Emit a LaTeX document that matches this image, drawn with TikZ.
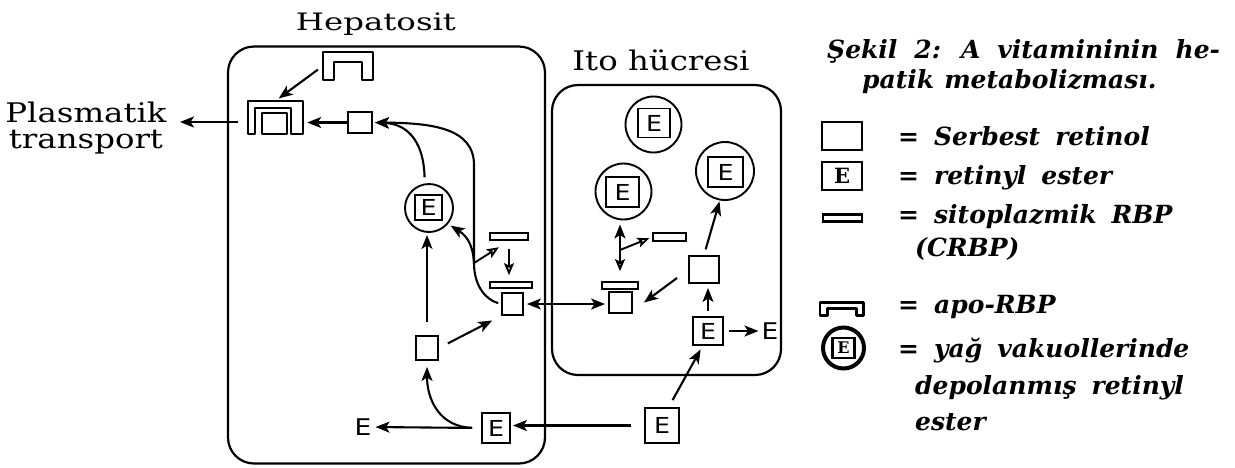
\documentclass[tikz,border=0pt]{standalone}
\usepackage{fontspec}
\setmainfont{DejaVu Serif}
\newfontfamily\labelfont{DejaVu Serif}[FakeStretch=1.2]
\newfontfamily\widelabelfont{DejaVu Serif}[FakeStretch=1.35]
\newfontfamily\legendfont{DejaVu Serif}
\newfontfamily\esterfont{DejaVu Sans}[FakeStretch=1.15]
\usetikzlibrary{arrows.meta,calc}
\newcommand\widewords{\spaceskip=15pt plus 2pt\relax}
\newcommand\titlewords{\spaceskip=17pt plus 2pt\relax}
\newcommand\titlewordsb{\spaceskip=10pt plus 2pt\relax}

\tikzset{
  cell/.style={draw, line width=2.2pt, rounded corners=26pt, inner sep=0pt},
  retsq/.style={draw, line width=1.9pt, rectangle, inner sep=0pt},
  esterbox/.style={draw, line width=1.9pt, rectangle, inner sep=0pt,
    font=\esterfont\fontsize{22}{22}\selectfont},
  vacuole/.style={draw, circle, line width=1.9pt, inner sep=0pt},
  crbpbar/.style={draw, line width=1.7pt, rectangle, inner sep=0pt},
  apobox/.style={draw=none, rectangle, inner sep=0pt},
  apoline/.style={line width=1.9pt, line join=round},
  freeE/.style={inner sep=1pt, font=\esterfont\fontsize{23}{23}\selectfont},
  tipfull/.tip={Stealth[length=14pt,width=11pt,inset=3.5pt]},
  tipopen/.tip={Stealth[open,length=12pt,width=10pt,inset=2.5pt]},
  flow/.style={line width=2.1pt, -tipfull},
  flowopen/.style={line width=1.9pt, -tipopen},
  flowboth/.style={line width=2.1pt, tipfull-tipfull},
  plain/.style={line width=2.1pt},
  cellname/.style={inner sep=0pt, anchor=base, font=\labelfont\fontsize{27}{26}\selectfont},
  legtext/.style={anchor=base west, inner sep=0pt,
    font=\legendfont\bfseries\itshape\fontsize{25}{28}\selectfont,
    execute at begin node=\widewords},
  titletext/.style={anchor=base west, inner sep=0pt,
    font=\legendfont\bfseries\itshape\fontsize{25}{28}\selectfont},
  legsym/.style={draw, line width=2.4pt, rectangle, inner sep=0pt},
}

\begin{document}
\begin{tikzpicture}[x=1pt,y=-1pt]
\useasboundingbox (0,0) rectangle (1235,467);

% cell membranes and their names
\node[cell, minimum width=317pt, minimum height=417pt] (hep) at (386.5,255) {};
\node[cell, minimum width=229pt, minimum height=290pt] (ito) at (666.5,230) {};
\node[cellname, font=\widelabelfont\fontsize{24}{26}\selectfont] (hepname) at (376,30) {Hepatosit};
\node[cellname] (itoname) at (661,70) {Ito hücresi};
\node[cellname, align=center, anchor=north] (plasma) at (86,101.5) {Plasmatik\\transport};

% --- hepatocyte ---
\node[apobox, minimum width=50pt, minimum height=28pt] (apoTop) at (348,66) {};
\draw[apoline] (apoTop.south west) -- (apoTop.north west) -- (apoTop.north east)
  -- (apoTop.south east) -- ++(-11,0) -- ++(0,-18) -- ++(-28,0) -- ++(0,18) -- cycle;

\node[apobox, minimum width=55pt, minimum height=33pt] (cplx) at (275.5,117.5) {};
\draw[apoline] (cplx.south west) -- (cplx.north west) -- (cplx.north east)
  -- (cplx.south east) -- ++(-12,0) -- ++(0,-26) -- ++(-36,0) -- ++(0,26) -- cycle;
\draw[apoline] ($(cplx.south west)+(14,0)$) rectangle ++(25,-21);

\node[retsq, minimum width=24pt, minimum height=21pt] (rTop) at (360,122.5) {};
\node[vacuole, minimum size=48pt] (vacH) at (429,208) {};
\node[esterbox, minimum width=27pt, minimum height=25pt] (eVacH) at (428.5,207.5) {E};
\node[crbpbar, minimum width=38pt, minimum height=7pt] (crbpA) at (509,236.5) {};
\node[crbpbar, minimum width=42pt, minimum height=6pt] (crbpB) at (511,285) {};
\node[retsq, minimum width=21pt, minimum height=22pt] (rH) at (512.5,304) {};
\node[retsq, minimum width=22pt, minimum height=24pt] (rLow) at (427,348) {};
\node[esterbox, minimum width=28pt, minimum height=30pt] (eH) at (496,428) {E};
\node[freeE] (eFreeL) at (363,427) {E};

% --- outside, below the Ito cell ---
\node[esterbox, minimum width=34pt, minimum height=35pt] (eOut) at (662,425.5) {E};

% --- Ito cell ---
\node[vacuole, minimum size=56pt] (vacI1) at (653.5,124.5) {};
\node[esterbox, minimum width=32pt, minimum height=29pt] (eVacI1) at (654,123) {E};
\node[vacuole, minimum size=56pt] (vacI2) at (623.5,191.5) {};
\node[esterbox, minimum width=33pt, minimum height=30pt] (eVacI2) at (622.5,192) {E};
\node[vacuole, minimum size=58pt] (vacI3) at (725,171) {};
\node[esterbox, minimum width=35pt, minimum height=30pt] (eVacI3) at (725.5,172) {E};
\node[crbpbar, minimum width=33pt, minimum height=8pt] (crbpI) at (669.5,237) {};
\node[crbpbar, minimum width=36pt, minimum height=7pt] (crbpI2) at (620,285.5) {};
\node[retsq, minimum width=23pt, minimum height=21pt] (rI) at (620.5,302.5) {};
\node[retsq, minimum width=30pt, minimum height=27pt] (rI2) at (704,269.5) {};
\node[esterbox, minimum width=30pt, minimum height=28pt] (eI) at (708,331) {E};
\node[freeE] (eFreeR) at (770,331) {E};

% --- hepatocyte connectors ---
\coordinate (plasmaTip) at (180,122);
\draw[flow, shorten <=10pt] (cplx.west |- plasmaTip) -- (plasmaTip);
\draw[flow, shorten <=6pt, shorten >=4pt] (apoTop.west) -- (cplx.north);
\draw[flow, shorten >=4pt] (rTop.west) -- (cplx.east |- rTop.west);

\coordinate (brH) at (474,263);
\draw[plain, shorten <=3pt] (rH.west) .. controls (484,299) and (474,284) .. (brH);
\draw[flow, shorten >=2pt] (brH) -- (474,165) .. controls (474,128) and (432,123) .. (rTop.east);
\draw[flow, shorten <=6pt, shorten >=2pt] (vacH.100) .. controls (424,145) and (410,124) .. (rTop.east);
\draw[flow, shorten >=3pt] (brH) .. controls (473,245) and (467,236) .. (vacH.-40);
\draw[flowopen, shorten >=12pt] (brH) -- (crbpA.south);
\draw[flowopen, shorten <=8pt, shorten >=6pt] (crbpA.south) -- (crbpA.south |- crbpB.north);

\draw[flow, shorten <=13pt, shorten >=2pt] (rLow.north) -- (rLow.north |- vacH.south);
\draw[flow, shorten <=10pt, shorten >=10pt] (rLow.east) -- (rH.south west);
\draw[flowboth, shorten <=3pt, shorten >=3pt] (rH.east) -- (rH.east -| rI.west);

\draw[flow, shorten <=9pt, shorten >=6pt] (eH.west) .. controls (440,427) and (427,400) .. (rLow.south);
\draw[flow, shorten <=9pt, shorten >=3pt] (eH.west) -- (eFreeL.east);
\draw[flow, shorten <=13pt, shorten >=2pt] (eOut.west) -- (eOut.west -| eH.east);

% --- Ito connectors ---
\draw[flow, shorten <=8pt, shorten >=4pt] (eOut.70) -- (eI.-110);
\draw[flow, shorten <=5pt, shorten >=2pt] (eI.east) -- (eFreeR.west);
\draw[flow, shorten <=5pt, shorten >=4pt] (eI.north) -- (eI.north |- rI2.south);
\draw[flow, shorten <=6pt, shorten >=1pt] (rI2.north) -- (vacI3.-100);
\draw[flow] ($(rI2.south west)+(-11,-6)$) -- ($(rI.east)+(11,0)$);

\coordinate (brI) at (620,250);
\draw[line width=2.1pt, tipopen-tipfull, shorten <=10pt, shorten >=4pt]
  (crbpI2.north) -- (crbpI2.north |- vacI2.south);
\draw[flowopen, shorten >=3pt] (brI) -- (crbpI.west);

% --- legend ---
\node[titletext, execute at begin node=\titlewords] (title1) at (827,58) {Şekil 2: A vitamininin he-};
\node[titletext, execute at begin node=\titlewordsb] (title2) at (862,88) {patik metabolizması.};

\node[legsym, minimum width=40pt, minimum height=28pt] (legSq) at (842,136) {};
\node[legtext] (legSqT) at (898,145) {= Serbest retinol};

\node[legsym, minimum width=40pt, minimum height=28pt,
  font=\legendfont\bfseries\fontsize{21}{21}\selectfont] (legE) at (842,176) {E};
\node[legtext] (legET) at (898,184) {= retinyl ester};

\node[legsym, minimum width=39pt, minimum height=7pt] (legBar) at (842.5,218) {};
\node[legtext] (legBarT) at (898,223) {= sitoplazmik RBP};
\node[legtext] (legBarT2) at (915,256) {(CRBP)};

\node[apobox, minimum width=43pt, minimum height=13pt] (legApo) at (841.5,309) {};
\draw[line width=2.6pt, line join=round] (legApo.south west) -- (legApo.north west)
  -- (legApo.north east) -- (legApo.south east) -- ++(-7,0) -- ++(0,-7) -- ++(-29,0) -- ++(0,7) -- cycle;
\node[legtext] (legApoT) at (898,313) {= apo-RBP};

\node[draw, circle, line width=4pt, minimum size=41pt, inner sep=0pt] (legVac) at (843.5,348) {};
\node[legsym, minimum width=22pt, minimum height=20pt,
  font=\legendfont\bfseries\fontsize{16}{16}\selectfont] (legVacE) at (843.5,348) {E};
\node[legtext] (legVacT) at (898,357) {= yağ vakuollerinde};
\node[legtext] (legVacT2) at (915,394) {depolanmış retinyl};
\node[legtext] (legVacT3) at (915,430) {ester};

\end{tikzpicture}
\end{document}
